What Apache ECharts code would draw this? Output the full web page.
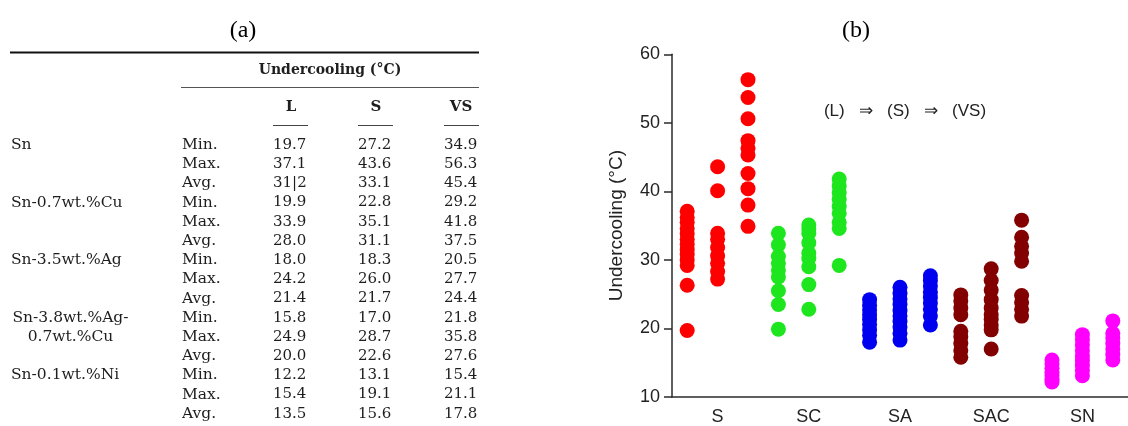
<!DOCTYPE html>
<html><head><meta charset="utf-8">
<script src="https://cdn.jsdelivr.net/npm/echarts@6/dist/echarts.min.js"></script>
<style>html,body{margin:0;padding:0;background:#fff}#c{width:1128px;height:426px}</style>
</head><body><div id="c"></div>
<script>
// ---------- data ----------
const groups = ["S", "SC", "SA", "SAC", "SN"];
const conditions = ["L", "S", "VS"];

// individual undercooling points (°C)
const sL   = [19.7, 26.3, 29.2, 30.0, 30.8, 31.5, 32.3, 33.0, 33.8, 34.6, 35.5, 36.2, 37.1];
const sS   = [27.2, 28.3, 29.5, 30.6, 31.8, 33.0, 33.9, 40.1, 43.6];
const sVS  = [34.9, 38.0, 40.4, 42.6, 45.3, 46.3, 47.4, 50.6, 53.7, 56.3];
const scL  = [19.9, 23.5, 25.5, 27.5, 28.5, 29.5, 30.5, 32.2, 33.9];
const scS  = [22.8, 26.4, 29.0, 30.2, 31.0, 32.5, 33.9, 34.5, 35.1];
const scVS = [29.2, 34.6, 35.5, 36.8, 37.8, 38.8, 39.8, 40.8, 41.8];
const saL  = [18.0, 19.0, 19.8, 20.6, 21.3, 22.0, 22.7, 23.4, 24.2];
const saS  = [18.3, 19.3, 20.2, 21.0, 21.8, 22.6, 23.5, 24.3, 25.1, 26.0];
const saVS = [20.5, 21.8, 22.8, 23.7, 24.5, 25.3, 26.2, 27.0, 27.7];
const sacL = [15.8, 16.8, 17.8, 18.8, 19.6, 22.0, 23.0, 24.0, 24.9];
const sacS = [17.0, 19.8, 20.5, 21.3, 22.0, 23.0, 24.2, 25.6, 27.0, 28.7];
const sacVS= [21.8, 22.8, 23.8, 24.8, 29.8, 31.0, 32.0, 33.3, 35.8];
const snL  = [12.2, 12.6, 13.1, 13.6, 14.2, 14.8, 15.4];
const snS  = [13.1, 13.9, 14.6, 15.3, 16.0, 16.8, 17.6, 18.4, 19.1];
const snVS = [15.4, 16.2, 17.0, 17.8, 18.6, 19.3, 21.1];

// table (a)
const alloyNames = ["Sn", "Sn-0.7wt.%Cu", "Sn-3.5wt.%Ag", "Sn-3.8wt.%Ag-\n0.7wt.%Cu", "Sn-0.1wt.%Ni"];
const statNames = ["Min.", "Max.", "Avg."];
const colL  = ["19.7","37.1","31|2","19.9","33.9","28.0","18.0","24.2","21.4","15.8","24.9","20.0","12.2","15.4","13.5"];
const colS  = ["27.2","43.6","33.1","22.8","35.1","31.1","18.3","26.0","21.7","17.0","28.7","22.6","13.1","19.1","15.6"];
const colVS = ["34.9","56.3","45.4","29.2","41.8","37.5","20.5","27.7","24.4","21.8","35.8","27.6","15.4","21.1","17.8"];
const tableHeader = "Undercooling (°C)";

// ---------- build ----------
const groupValues = [[sL, sS, sVS], [scL, scS, scVS], [saL, saS, saVS], [sacL, sacS, sacVS], [snL, snS, snVS]];
const groupColors = ["#ff0000", "#1ee61e", "#0000f0", "#820000", "#ff00ff"];
const categories = [];
groups.forEach(g => conditions.forEach(c => categories.push(g + "-" + c)));

const series = groups.map((g, gi) => {
  const data = [];
  groupValues[gi].forEach((arr, ci) => arr.forEach(v => data.push([gi * 3 + ci, v])));
  return {
    type: "scatter", name: g, data: data, symbol: "circle", symbolSize: 15,
    itemStyle: { color: groupColors[gi], opacity: 1 }, silent: true
  };
});

const serif = "'DejaVu Serif', serif";
const txtCol = "#1e1e1e";
const graphics = [];
function T(text, x, y, font, align, extra) {
  graphics.push({ type: "text", x: x, y: y, silent: true,
    style: Object.assign({ text: text, font: font, fill: txtCol, align: align || "left", verticalAlign: "middle" }, extra || {}) });
}
function L(x1, y1, x2, y2, w, c) {
  graphics.push({ type: "line", silent: true, shape: { x1, y1, x2, y2 }, style: { stroke: c || "#111", lineWidth: w } });
}
// titles
T("(a)", 243, 31, "24px 'Liberation Serif', serif", "center", { fill: "#000" });
T("(b)", 856, 31, "24px 'Liberation Serif', serif", "center", { fill: "#000" });
// table rules
L(10, 52.5, 479, 52.5, 2.2, "#111");
L(181, 87.5, 479, 87.5, 1.2, "#555");
const colX = [291, 376, 461];
const colLine = [[273, 308], [358, 393], [444, 479]];
T(tableHeader, 330, 70, "bold 14px " + serif, "center");
conditions.forEach((c, i) => {
  T(c, colX[i], 107, "bold 15px " + serif, "center");
  L(colLine[i][0], 125.5, colLine[i][1], 125.5, 1.2, "#444");
});
const rowY0 = 145, rowStep = 19.2;
alloyNames.forEach((a, ai) => {
  const y = rowY0 + ai * 3 * rowStep;
  const parts = a.split("\n");
  if (parts.length === 1) T(a, 11, y, "15.5px " + serif, "left");
  else parts.forEach((p, pi) => T(p, 70.5, y + pi * rowStep, "15.5px " + serif, "center"));
});
for (let r = 0; r < 15; r++) {
  const y = rowY0 + r * rowStep;
  T(statNames[r % 3], 182, y, "15.5px " + serif, "left");
  T(colL[r], 273, y, "15px " + serif, "left");
  T(colS[r], 358, y, "15px " + serif, "left");
  T(colVS[r], 444, y, "15px " + serif, "left");
}
// annotation in panel (b)
T("(L)   \u21D2   (S)   \u21D2   (VS)", 905, 111, "17px 'Liberation Sans', Arial, sans-serif", "center", { fill: "#222" });

const chart = echarts.init(document.getElementById("c"), null, { renderer: "canvas" });
const axisCol = "#2a2a2a";
chart.setOption({
  backgroundColor: "#fff",
  animation: false,
  grid: { left: 672, top: 54.3, width: 464.4, bottom: 28.7, containLabel: false },
  xAxis: {
    type: "category", data: categories, boundaryGap: true,
    axisLine: { lineStyle: { color: axisCol, width: 1.5 } },
    axisTick: { alignWithLabel: true, interval: 0, length: 6, lineStyle: { color: axisCol, width: 1.5 } },
    axisLabel: {
      interval: 0, margin: 11, fontSize: 18, color: "#222", fontFamily: "'Liberation Sans', Arial, sans-serif",
      formatter: (v, idx) => (idx % 3 === 1 ? groups[Math.floor(idx / 3)] : "")
    },
    splitLine: { show: false }
  },
  yAxis: {
    type: "value", min: 10, max: 60, interval: 10,
    name: "Undercooling (°C)", nameLocation: "middle", nameGap: 46,
    nameTextStyle: { fontSize: 19, color: "#222", fontFamily: "'Liberation Sans', Arial, sans-serif" },
    axisLine: { show: true, lineStyle: { color: axisCol, width: 1.5 } },
    axisTick: { show: true, length: 8, lineStyle: { color: axisCol, width: 1.5 } },
    axisLabel: { margin: 12, fontSize: 18, color: "#222", fontFamily: "'Liberation Sans', Arial, sans-serif" },
    splitLine: { show: false }
  },
  series: series,
  graphic: graphics
});
</script></body></html>
